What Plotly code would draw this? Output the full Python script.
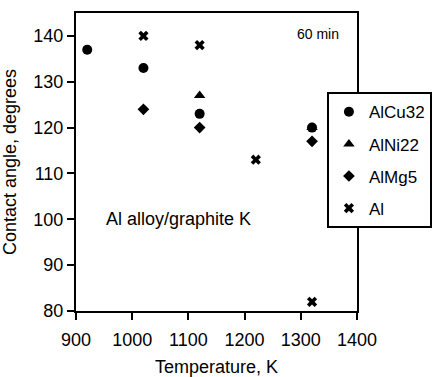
import plotly.graph_objects as go

series_names = ["AlCu32", "AlNi22", "AlMg5", "Al"]
cu_T = [920, 1020, 1120, 1320]
cu_angle = [137, 133, 123, 120]
ni_T = [1120, 1320]
ni_angle = [127, 120]
mg_T = [1020, 1120, 1320]
mg_angle = [124, 120, 117]
al_T = [1020, 1120, 1220, 1320]
al_angle = [140, 138, 113, 82]

x_ticks = [900, 1000, 1100, 1200, 1300, 1400]
y_ticks = [80, 90, 100, 110, 120, 130, 140]

FONT = "Liberation Sans, Arial, sans-serif"

fig = go.Figure()
specs = [
    (cu_T, cu_angle, "circle", 10),
    (ni_T, ni_angle, "triangle-up", 10),
    (mg_T, mg_angle, "diamond", 9),
    (al_T, al_angle, "x", 9),
]
for name, (xs, ys, sym, sz) in zip(series_names, specs):
    fig.add_trace(go.Scatter(
        x=xs, y=ys, mode="markers", name=name, legendgroup=name,
        marker=dict(symbol=sym, size=sz, color="black", line=dict(width=0)),
    ))

axis_common = dict(
    showline=True, linecolor="black", linewidth=2, mirror=True,
    ticks="outside", ticklen=7, tickwidth=2, tickcolor="black",
    showgrid=False, zeroline=False, automargin=False,
    tickfont=dict(family=FONT, size=18, color="black"),
)
fig.update_xaxes(range=[900, 1400], tickvals=x_ticks, ticklabelstandoff=4,
                 title=dict(text="Temperature, K", font=dict(family=FONT, size=18, color="black")),
                 **axis_common)
fig.update_yaxes(range=[80, 145], tickvals=y_ticks,
                 title=dict(text="Contact angle, degrees", font=dict(family=FONT, size=18, color="black")),
                 **axis_common)

fig.add_annotation(x=1330, y=140.5, xref="x", yref="y", text="60 min", showarrow=False,
                   font=dict(family=FONT, size=14, color="black"))
fig.add_annotation(x=1083, y=100, xref="x", yref="y", text="Al alloy/graphite K", showarrow=False,
                   font=dict(family=FONT, size=18, color="black"))

fig.update_layout(
    width=438, height=377,
    margin=dict(l=76, r=81, t=13, b=66, autoexpand=False),
    paper_bgcolor="white", plot_bgcolor="white",
    showlegend=True,
    legend=dict(
        x=0.893, y=0.734, xanchor="left", yanchor="top",
        bgcolor="white", bordercolor="black", borderwidth=2,
        font=dict(family=FONT, size=17, color="black"),
        tracegroupgap=7, itemwidth=30,
    ),
)

fig.write_html("out.html", config={"displayModeBar": False},
               post_script="document.body.style.margin='0';")
